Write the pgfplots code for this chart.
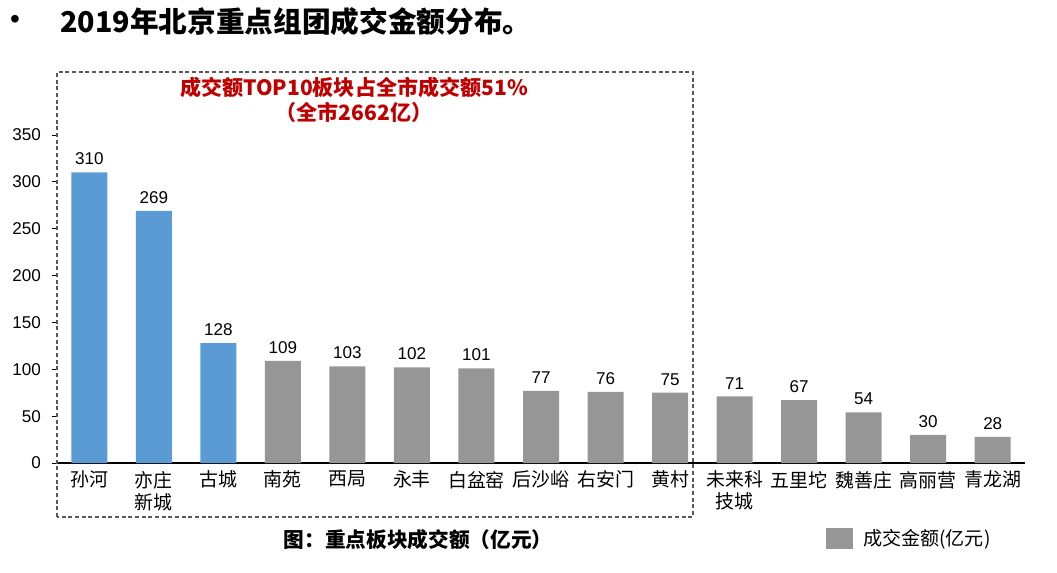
\documentclass[border=0pt]{standalone}
\usepackage{fontspec}
\setmainfont{Liberation Sans}
\newfontfamily\cjk{Noto Sans CJK SC}
\usepackage{pgfplots}
\pgfplotsset{compat=1.18}
\definecolor{barblue}{HTML}{5B9BD5}
\definecolor{bargray}{HTML}{969696}
\definecolor{boxgray}{HTML}{595959}
\definecolor{redtxt}{HTML}{C00000}
\begin{document}
\begin{tikzpicture}
\path[use as bounding box] (0,0) rectangle (792.75pt,429pt);
\begin{axis}[
  at={(42.75pt,81.75pt)}, anchor=south west,
  scale only axis, width=726pt, height=246pt,
  xmin=-0.5, xmax=14.5, ymin=0, ymax=350,
  ybar, bar width=27pt, bar shift=0pt,
  axis x line*=bottom, axis y line*=left,
  x axis line style={black, line width=1.2pt, -},
  y axis line style={draw=none, -},
  xtick={0,...,14}, xtick style={draw=none},
  xticklabels={孙河,{亦庄\\新城},古城,南苑,西局,永丰,白盆窑,后沙峪,右安门,黄村,{未来科\\技城},五里坨,魏善庄,高丽营,青龙湖},
  xticklabel style={font=\cjk\fontsize{14.2}{16.5}\selectfont, align=center, anchor=north, yshift=1.5pt},
  ytick={0,50,...,350},
  ytick style={black, line width=0.6pt},
  tick align=outside, major tick length=4pt,
  yticklabel style={font=\fontsize{12.8}{14}\selectfont, xshift=-4.5pt},
  /pgf/number format/assume math mode=true,
  nodes near coords,
  every node near coord/.append style={font=\fontsize{12.8}{14}\selectfont, black, yshift=2pt},
  legend style={draw=none, fill=none, at={(0.794,-0.229)}, anchor=west,
    font=\cjk\fontsize{14.3}{16}\selectfont, inner sep=0pt},
  legend cell align=left,
  legend image code/.code={\fill[#1] (0pt,-7.9pt) rectangle (20.25pt,7.9pt); \path (26pt,0pt);},
]
\addplot[fill=barblue, draw=none, forget plot] coordinates {(0,310) (1,269) (2,128)};
\addplot[fill=bargray, draw=none] coordinates {(3,109) (4,103) (5,102) (6,101) (7,77) (8,76) (9,75) (10,71) (11,67) (12,54) (13,30) (14,28)};
\addlegendentry{成交金额(亿元)}
\end{axis}
\draw[boxgray, line width=1.1pt, dash pattern=on 3pt off 2pt] (42.75pt,41.25pt) rectangle (519.75pt,375pt);
\node[anchor=center, font=\fontsize{21}{22}\selectfont, inner sep=0] at (11.25pt,412.5pt) {•};
\node[anchor=west, font=\cjk\bfseries\fontsize{21.5}{24}\selectfont, inner sep=0] at (45pt,412.5pt) {2019年北京重点组团成交金额分布。};
\node[align=center, text=redtxt, font=\cjk\bfseries\fontsize{15.8}{18.75}\selectfont, inner sep=0] at (265.5pt,354.4pt) {成交额TOP10板块占全市成交额51\%\\（全市2662亿）};
\node[font=\cjk\bfseries\fontsize{15.5}{18}\selectfont, inner sep=0] at (313.5pt,24pt) {图：重点板块成交额（亿元）};
\end{tikzpicture}
\end{document}
